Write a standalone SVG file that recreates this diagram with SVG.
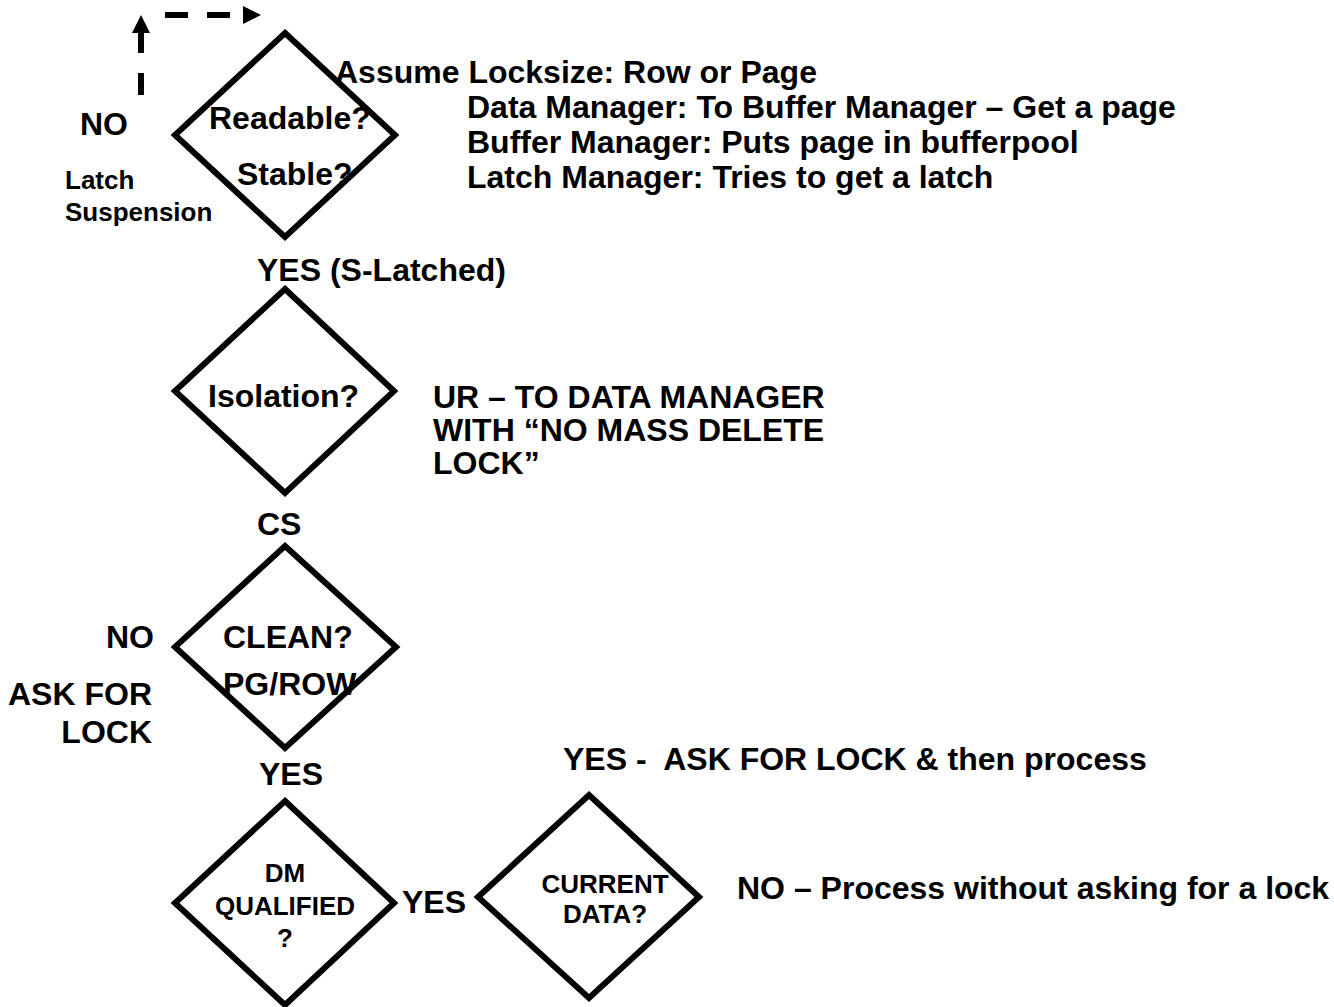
<svg xmlns="http://www.w3.org/2000/svg" width="1334" height="1007" viewBox="0 0 1334 1007">
<style>
.bg{fill:#ffffff}
.dia{fill:#ffffff;stroke:#000000;stroke-width:6;stroke-linejoin:miter}
.t{font-family:"Liberation Sans",Arial,sans-serif;font-weight:bold;fill:#000000;font-size:32px}
.s{font-size:26px}
.m{text-anchor:middle}
.e{text-anchor:end}
.dash{fill:none;stroke:#000000;stroke-width:6}
</style>
<defs>
<marker id="ah" markerUnits="userSpaceOnUse" viewBox="0 0 18 18" markerWidth="18" markerHeight="18" refX="0" refY="9" orient="auto">
<path d="M0,0 L18,9 L0,18 Z" fill="#000000"/>
</marker>
</defs>
<rect class="bg" x="0" y="0" width="1334" height="1007"/>
<g id="connectors">
<path class="dash" d="M141,95 V33" stroke-dasharray="22 20" marker-end="url(#ah)"/>
<path class="dash" d="M165,15 H243" stroke-dasharray="23 19" marker-end="url(#ah)"/>
</g>
<g id="node-readable">
<polygon class="dia" points="285,33 395,135 285,237 175,135"/>
<text class="t" x="209" y="129">Readable?</text>
<text class="t" x="237" y="185">Stable?</text>
</g>
<g id="node-isolation">
<polygon class="dia" points="285,289 394,391 285,493 175,391"/>
<text class="t" x="208" y="407">Isolation?</text>
</g>
<g id="node-clean">
<polygon class="dia" points="285,546 396,647 285,748 175,647"/>
<text class="t" x="223" y="648">CLEAN?</text>
<text class="t" x="223" y="695">PG/ROW</text>
</g>
<g id="node-dm-qualified">
<polygon class="dia" points="285,801 394,903 285,1005 175,903"/>
<text class="t s m" x="285" y="882">DM</text>
<text class="t s m" x="285" y="915">QUALIFIED</text>
<text class="t s m" x="285" y="947">?</text>
</g>
<g id="node-current-data">
<polygon class="dia" points="589,795 699,897 589,998 478,897"/>
<text class="t s m" x="605" y="893">CURRENT</text>
<text class="t s m" x="605" y="923">DATA?</text>
</g>
<g id="labels">
<text class="t" x="80" y="135">NO</text>
<text class="t s" x="65" y="189">Latch</text>
<text class="t s" x="65" y="221">Suspension</text>
<text class="t" x="335" y="83">Assume Locksize: Row or Page</text>
<text class="t" x="467" y="118">Data Manager: To Buffer Manager – Get a page</text>
<text class="t" x="467" y="153">Buffer Manager: Puts page in bufferpool</text>
<text class="t" x="467" y="188">Latch Manager: Tries to get a latch</text>
<text class="t" x="257" y="281">YES (S-Latched)</text>
<text class="t" x="433" y="408">UR – TO DATA MANAGER</text>
<text class="t" x="433" y="441">WITH “NO MASS DELETE</text>
<text class="t" x="433" y="474">LOCK”</text>
<text class="t" x="257" y="535">CS</text>
<text class="t" x="106" y="648">NO</text>
<text class="t e" x="152" y="705">ASK FOR</text>
<text class="t e" x="152" y="743">LOCK</text>
<text class="t" x="259" y="785">YES</text>
<text class="t" x="402" y="913">YES</text>
<text class="t" x="563" y="770" xml:space="preserve">YES -  ASK FOR LOCK &amp; then process</text>
<text class="t" x="737" y="899">NO – Process without asking for a lock</text>
</g>
</svg>
